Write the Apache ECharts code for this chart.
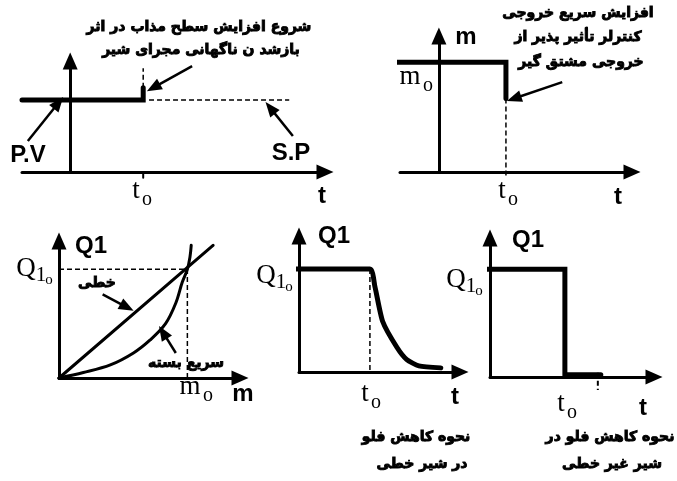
<!DOCTYPE html>
<html>
<head>
<meta charset="utf-8">
<script src="https://cdn.jsdelivr.net/npm/echarts@6/dist/echarts.min.js"></script>
<style>
  html, body { margin: 0; padding: 0; background: #fff; }
  #chart { width: 677px; height: 481px; }
</style>
</head>
<body>
<div id="chart"></div>
<script>
// panel 1: level (P.V) against set point (S.P)
const pvLine = [[-0.66, 1], [1, 1], [1, 1.17]];
const pvGuide = [[1, 1.17], [1, 1.44]];
const spLine = [[1.08, 1], [3, 1]];
const p1Tick = [[1, 0], [1, -0.08]];
const pvArrow = [[-0.58, 0.43], [-0.16, 0.96]];
const spArrow = [[3.05, 0.5], [2.74, 0.89]];
const jumpArrow = [[1.67, 1.47], [1.14, 1.17]];

// panel 2: controller output m
const mLine = [[-0.66, 1], [1, 1], [1, 0.67]];
const mGuide = [[1, 0.67], [1, -0.06]];
const mArrow = [[1.84, 0.82], [1.12, 0.67]];

// panel 3: valve characteristics Q1 vs m
const linearValve = [[0, 0], [1.2, 1.22]];
const quickOpen = [[0, 0], [0.19, 0.05], [0.4, 0.12], [0.58, 0.23], [0.71, 0.35], [0.83, 0.5],
  [0.91, 0.69], [0.96, 0.88], [1, 1], [1.02, 1.11], [1.03, 1.22]];
const q1Guide = [[0, 1], [1, 1], [1, 0]];
const linearArrow = [[0.34, 0.77], [0.53, 0.65]];
const quickArrow = [[0.91, 0.23], [0.81, 0.42]];

// panel 4: flow drop, linear valve
const linearDrop = [[-0.1, 1], [1, 1], [1.07, 0.83], [1.18, 0.49], [1.38, 0.24], [1.52, 0.12],
  [1.69, 0.06], [2.0, 0.04]];
const linearGuide = [[1, 1], [1, 0]];

// panel 5: flow drop, non-linear valve
const quickDrop = [[-0.1, 1], [1, 1], [1, 0.02], [1.48, 0.02]];
const quickTick = [[1.44, 0.04], [1.44, -0.12]];

const chart = echarts.init(document.getElementById("chart"));

const grids = [
  { left: 22, top: 61, width: 303, height: 111 },
  { left: 400, top: 36, width: 232, height: 136 },
  { left: 59, top: 241, width: 181, height: 137 },
  { left: 299, top: 236, width: 161, height: 136 },
  { left: 490, top: 238, width: 164, height: 139 },
];
const xRanges = [[-0.66, 3.49], [-0.58, 2.88], [0, 1.41], [0, 2.27], [0, 2.19]];
const yRanges = [[0, 1.54], [0, 1.24], [0, 1.26], [0, 1.32], [0, 1.29]];

const axis = (i, range) => ({
  type: "value",
  gridIndex: i,
  min: range[0],
  max: range[1],
  axisLine: {
    show: true,
    onZero: true,
    symbol: ["none", "triangle"],
    symbolSize: [15, 17],
    lineStyle: { color: "#000", width: 3 },
  },
  axisTick: { show: false },
  axisLabel: { show: false },
  splitLine: { show: false },
});

const line = (i, data, width, extra = {}) => ({
  type: "line",
  xAxisIndex: i,
  yAxisIndex: i,
  data,
  symbol: "none",
  clip: false,
  silent: true,
  lineStyle: { color: "#000", width, cap: "round", join: "miter" },
  z: 3,
  ...extra,
});

const dashed = (i, data, width = 1.5) =>
  line(i, data, width, { lineStyle: { color: "#000", width, type: [5, 3] } });

const arrows = (list) => ({
  silent: true,
  symbol: ["none", "triangle"],
  symbolSize: [12, 15],
  label: { show: false },
  lineStyle: { color: "#000", width: 2.5, type: "solid" },
  data: list.map((a) => [{ coord: a[0] }, { coord: a[1] }]),
});

const bold = "bold 24px 'Liberation Sans', Arial, sans-serif";
const serif = "27px 'Liberation Serif', 'Times New Roman', serif";
const serifSub = "20px 'Liberation Serif', 'Times New Roman', serif";
const serifSub2 = "15px 'Liberation Serif', 'Times New Roman', serif";
const fa = "bold 14px 'DejaVu Sans', sans-serif";

const txt = (text, x, y, font, heavy) => ({
  type: "text",
  silent: true,
  style: {
    text, x, y, font, fill: "#000",
    textAlign: "center", textVerticalAlign: "middle",
    stroke: heavy ? "#000" : null, lineWidth: heavy ? 0.9 : 0,
  },
});
const faTxt = (text, x, y) => txt(text, x, y, fa, true);

// t with subscript o
const tSub = (x, y) => [txt("t", x, y, serif), txt("o", x + 11, y + 9, serifSub)];
// m with subscript o
const mSub = (x, y) => [txt("m", x, y, serif), txt("o", x + 18, y + 9, serifSub)];
// Q with subscripts 1 and o
const qSub = (x, y) => [
  txt("Q", x, y, serif),
  txt("1", x + 15, y + 6, "21px 'Liberation Serif', serif"),
  txt("o", x + 23, y + 11, serifSub2),
];

const labels = [
  faTxt("شروع افزایش سطح مذاب در اثر", 199, 27),
  faTxt("بازشد ن ناگهانی مجرای شیر", 201, 50),
  txt("P.V", 28, 155, bold),
  txt("S.P", 291, 153, bold),
  ...tSub(136, 191),
  txt("t", 322, 196, bold),

  faTxt("افزایش سریع خروجی", 578, 13),
  faTxt("کنترلر تأثیر پذیر از", 578, 37),
  faTxt("خروجی مشتق گیر", 581, 62),
  txt("m", 466, 37, bold),
  ...mSub(410, 77),
  ...tSub(502, 191),
  txt("t", 618, 197, bold),

  txt("Q1", 91, 246, bold),
  ...qSub(26, 269),
  faTxt("خطی", 97, 283),
  faTxt("سریع بسته", 186, 363),
  ...mSub(190, 387),
  txt("m", 243, 394, bold),

  txt("Q1", 334, 236, bold),
  ...qSub(266, 276),
  ...tSub(365, 394),
  txt("t", 455, 397, bold),
  faTxt("نحوه کاهش فلو", 416, 437),
  faTxt("در شیر خطی", 422, 464),

  txt("Q1", 528, 240, bold),
  ...qSub(456, 280),
  ...tSub(561, 404),
  txt("t", 643, 408, bold),
  faTxt("نحوه کاهش فلو در", 610, 437),
  faTxt("شیر غیر خطی", 612, 464),
];

chart.setOption({
  animation: false,
  backgroundColor: "#fff",
  grid: grids,
  xAxis: xRanges.map((r, i) => axis(i, r)),
  yAxis: yRanges.map((r, i) => axis(i, r)),
  series: [
    line(0, pvLine, 5, { markLine: arrows([pvArrow, spArrow, jumpArrow]) }),
    dashed(0, pvGuide),
    dashed(0, spLine),
    line(0, p1Tick, 2),

    line(1, mLine, 5, { markLine: arrows([mArrow]) }),
    dashed(1, mGuide),

    line(2, linearValve, 3, { markLine: arrows([linearArrow, quickArrow]) }),
    line(2, quickOpen, 3, { smooth: 0.35 }),
    dashed(2, q1Guide),

    line(3, linearDrop, 5, { smooth: 0.2 }),
    dashed(3, linearGuide),

    line(4, quickDrop, 5),
    dashed(4, quickTick, 2),
  ],
  graphic: { elements: labels },
});
</script>
</body>
</html>
